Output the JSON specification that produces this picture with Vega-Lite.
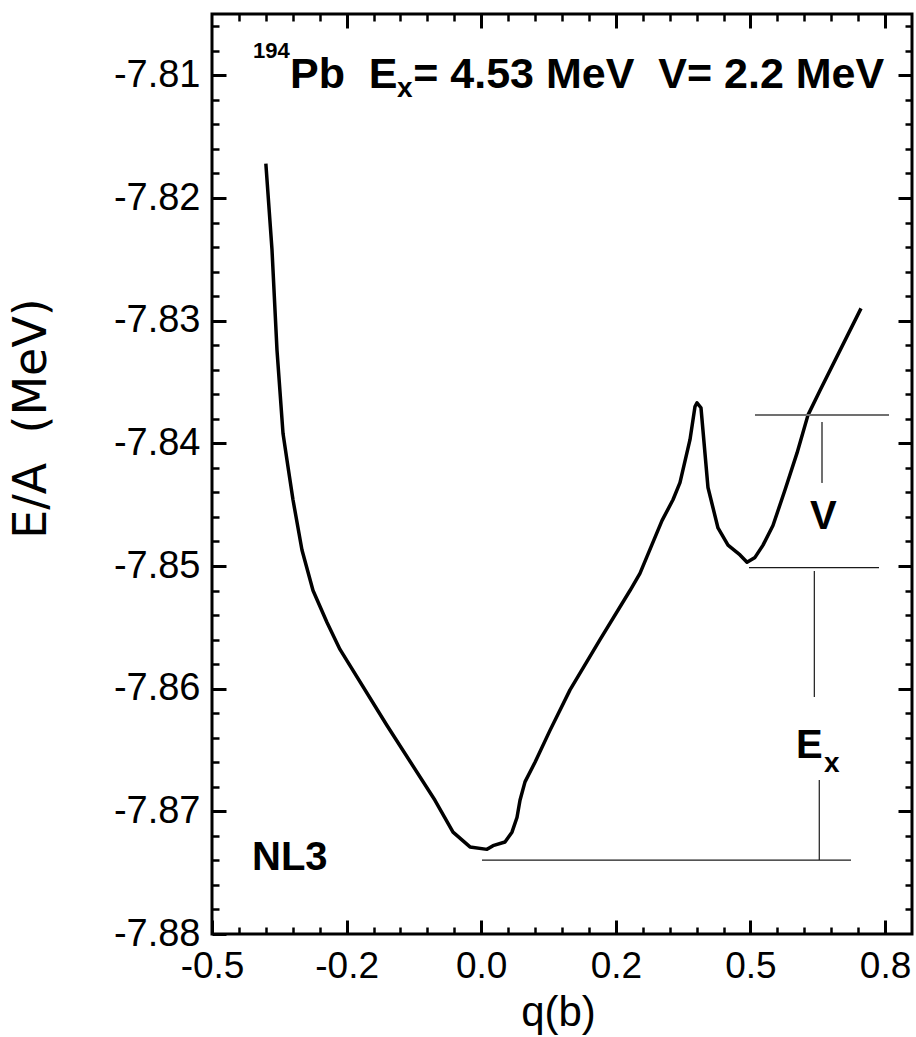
{
  "$schema": "https://vega.github.io/schema/vega-lite/v6.json",
  "width": 700,
  "height": 920,
  "autosize": {"type": "none"},
  "padding": {"left": 212, "top": 14, "right": 4, "bottom": 103},
  "background": "white",
  "config": {
    "view": {"stroke": "black", "strokeWidth": 3},
    "axis": {"domain": false, "grid": false, "labelFont": "Liberation Sans, Arial, sans-serif", "titleFont": "Liberation Sans, Arial, sans-serif", "labelColor": "black", "titleColor": "black"},
    "text": {"font": "Liberation Sans, Arial, sans-serif", "color": "black"}
  },
  "datasets": {
    "curve": [
      {"q": -0.400, "e": -7.8172},
      {"q": -0.3886, "e": -7.8242},
      {"q": -0.3793, "e": -7.8324},
      {"q": -0.3681, "e": -7.8392},
      {"q": -0.3589, "e": -7.8419},
      {"q": -0.3496, "e": -7.8446},
      {"q": -0.3329, "e": -7.8487},
      {"q": -0.3124, "e": -7.8520},
      {"q": -0.2864, "e": -7.8546},
      {"q": -0.2623, "e": -7.8568},
      {"q": -0.175, "e": -7.8630},
      {"q": -0.0859, "e": -7.8691},
      {"q": -0.0524, "e": -7.8717},
      {"q": -0.0209, "e": -7.8729},
      {"q": 0.0107, "e": -7.8731},
      {"q": 0.0219, "e": -7.8728},
      {"q": 0.0441, "e": -7.8725},
      {"q": 0.0571, "e": -7.8717},
      {"q": 0.0664, "e": -7.8705},
      {"q": 0.0720, "e": -7.8691},
      {"q": 0.0813, "e": -7.8676},
      {"q": 0.0999, "e": -7.8660},
      {"q": 0.1277, "e": -7.8634},
      {"q": 0.1649, "e": -7.8601},
      {"q": 0.2206, "e": -7.8560},
      {"q": 0.2763, "e": -7.8520},
      {"q": 0.2948, "e": -7.8506},
      {"q": 0.3357, "e": -7.8463},
      {"q": 0.3561, "e": -7.8446},
      {"q": 0.3691, "e": -7.8432},
      {"q": 0.3877, "e": -7.8397},
      {"q": 0.3970, "e": -7.8370},
      {"q": 0.4007, "e": -7.8367},
      {"q": 0.4081, "e": -7.8371},
      {"q": 0.4211, "e": -7.8436},
      {"q": 0.4397, "e": -7.8469},
      {"q": 0.4583, "e": -7.8483},
      {"q": 0.4806, "e": -7.8491},
      {"q": 0.4936, "e": -7.8497},
      {"q": 0.5084, "e": -7.8493},
      {"q": 0.5233, "e": -7.8483},
      {"q": 0.5418, "e": -7.8467},
      {"q": 0.5641, "e": -7.8438},
      {"q": 0.5864, "e": -7.8408},
      {"q": 0.6068, "e": -7.8377},
      {"q": 0.6291, "e": -7.8357},
      {"q": 0.7053, "e": -7.8290}
    ],
    "graylines": [
      {"x1": 0.5084, "x2": 0.7573, "y1": -7.83769, "y2": -7.83769},
      {"x1": 0.6329, "x2": 0.6329, "y1": -7.83826, "y2": -7.84323}
    ],
    "blacklines": [
      {"x1": 0.4973, "x2": 0.7387, "y1": -7.85014, "y2": -7.85014},
      {"x1": 0.6186, "x2": 0.6186, "y1": -7.85041, "y2": -7.86068},
      {"x1": 0.6278, "x2": 0.6278, "y1": -7.86745, "y2": -7.87397},
      {"x1": 0.0014, "x2": 0.6867, "y1": -7.87397, "y2": -7.87397}
    ],
    "biglabels": [
      {"x": -0.4257, "y": -7.87478, "t": "NL3"},
      {"x": 0.6106, "y": -7.84698, "t": "V"},
      {"x": 0.5846, "y": -7.86565, "t": "E"}
    ],
    "subs": [
      {"x": 0.6366, "y": -7.86679, "t": "x"},
      {"x": -0.1565, "y": -7.81177, "t": "x"}
    ],
    "titlebig": [
      {"x": -0.3551, "y": -7.81103, "t": "Pb\u00a0\u00a0E"},
      {"x": -0.1262, "y": -7.81103, "t": "= 4.53 MeV\u00a0\u00a0V= 2.2 MeV"}
    ],
    "titlesup": [
      {"x": -0.4239, "y": -7.80859, "t": "194"}
    ]
  },
  "layer": [
    {
      "data": {"name": "curve"},
      "mark": {"type": "line", "color": "black", "strokeWidth": 3.5, "strokeJoin": "round"},
      "encoding": {
        "x": {"field": "q", "type": "quantitative", "scale": {"domain": [-0.5, 0.8], "nice": false, "zero": false},
          "axis": {"orient": "bottom", "offset": -14, "values": [-0.5, -0.25, 0, 0.25, 0.5, 0.75], "tickSize": 14, "tickWidth": 3, "tickColor": "black",
            "labelExpr": "datum.value == -0.5 ? '-0.5' : datum.value == -0.25 ? '-0.2' : datum.value == 0 ? '0.0' : datum.value == 0.25 ? '0.2' : datum.value == 0.5 ? '0.5' : '0.8'",
            "labelFontSize": 37, "labelPadding": 14, "labelFlush": false, "labelOverlap": false,
            "title": "q(b)", "titleFontSize": 42, "titleFontWeight": "normal", "titleX": 346, "titleY": 105, "titleBaseline": "alphabetic", "titleAlign": "center"}},
        "y": {"field": "e", "type": "quantitative", "scale": {"domain": [-7.88, -7.805], "nice": false, "zero": false},
          "axis": {"orient": "left", "offset": -14, "values": [-7.88, -7.87, -7.86, -7.85, -7.84, -7.83, -7.82, -7.81], "tickSize": 14, "tickWidth": 3, "tickColor": "black",
            "labelExpr": "'-' + format(abs(datum.value), '.2f')",
            "labelFontSize": 38, "labelPadding": 12, "labelFlush": false, "labelOverlap": false,
            "title": "E/A\u00a0\u00a0(MeV)", "titleFont": "DejaVu Sans, sans-serif", "titleFontSize": 46, "titleFontWeight": "normal", "titleX": -181, "titleY": 404, "titleAngle": 270, "titleBaseline": "alphabetic", "titleAlign": "center"}}
      }
    },
    {
      "data": {"name": "graylines"},
      "mark": {"type": "rule", "color": "#707070", "strokeWidth": 2},
      "encoding": {
        "x": {"field": "x1", "type": "quantitative", "scale": {"domain": [-0.5, 0.8], "nice": false, "zero": false},
          "axis": {"orient": "bottom", "offset": -7, "values": [-0.45, -0.4, -0.35, -0.3, -0.2, -0.15, -0.1, -0.05, 0.05, 0.1, 0.15, 0.2, 0.3, 0.35, 0.4, 0.45, 0.55, 0.6, 0.65, 0.7], "tickSize": 7, "tickWidth": 2.5, "tickColor": "black", "labels": false, "title": null}},
        "x2": {"field": "x2"},
        "y": {"field": "y1", "type": "quantitative", "scale": {"domain": [-7.88, -7.805], "nice": false, "zero": false},
          "axis": {"orient": "left", "offset": -7, "values": [-7.878, -7.876, -7.874, -7.872, -7.868, -7.866, -7.864, -7.862, -7.858, -7.856, -7.854, -7.852, -7.848, -7.846, -7.844, -7.842, -7.838, -7.836, -7.834, -7.832, -7.828, -7.826, -7.824, -7.822, -7.818, -7.816, -7.814, -7.812, -7.808, -7.806], "tickSize": 7, "tickWidth": 2.5, "tickColor": "black", "labels": false, "title": null}},
        "y2": {"field": "y2"}
      }
    },
    {
      "data": {"name": "blacklines"},
      "mark": {"type": "rule", "color": "#1a1a1a", "strokeWidth": 1.2},
      "encoding": {
        "x": {"field": "x1", "type": "quantitative", "scale": {"domain": [-0.5, 0.8], "nice": false, "zero": false},
          "axis": {"orient": "top", "offset": -14, "values": [-0.25, 0, 0.25, 0.5, 0.75], "tickSize": 14, "tickWidth": 3, "tickColor": "black", "labels": false, "title": null}},
        "x2": {"field": "x2"},
        "y": {"field": "y1", "type": "quantitative", "scale": {"domain": [-7.88, -7.805], "nice": false, "zero": false},
          "axis": {"orient": "right", "offset": -14, "values": [-7.87, -7.86, -7.85, -7.84, -7.83, -7.82, -7.81], "tickSize": 14, "tickWidth": 3, "tickColor": "black", "labels": false, "title": null}},
        "y2": {"field": "y2"}
      }
    },
    {
      "data": {"name": "biglabels"},
      "mark": {"type": "text", "fontSize": 40, "fontWeight": "bold", "align": "left", "baseline": "alphabetic"},
      "encoding": {
        "x": {"field": "x", "type": "quantitative", "scale": {"domain": [-0.5, 0.8], "nice": false, "zero": false},
          "axis": {"orient": "top", "offset": -7, "values": [-0.45, -0.4, -0.35, -0.3, -0.2, -0.15, -0.1, -0.05, 0.05, 0.1, 0.15, 0.2, 0.3, 0.35, 0.4, 0.45, 0.55, 0.6, 0.65, 0.7], "tickSize": 7, "tickWidth": 2.5, "tickColor": "black", "labels": false, "title": null}},
        "y": {"field": "y", "type": "quantitative", "scale": {"domain": [-7.88, -7.805], "nice": false, "zero": false},
          "axis": {"orient": "right", "offset": -7, "values": [-7.878, -7.876, -7.874, -7.872, -7.868, -7.866, -7.864, -7.862, -7.858, -7.856, -7.854, -7.852, -7.848, -7.846, -7.844, -7.842, -7.838, -7.836, -7.834, -7.832, -7.828, -7.826, -7.824, -7.822, -7.818, -7.816, -7.814, -7.812, -7.808, -7.806], "tickSize": 7, "tickWidth": 2.5, "tickColor": "black", "labels": false, "title": null}},
        "text": {"field": "t"}
      }
    },
    {
      "data": {"name": "subs"},
      "mark": {"type": "text", "fontSize": 28, "fontWeight": "bold", "align": "left", "baseline": "alphabetic"},
      "encoding": {
        "x": {"field": "x", "type": "quantitative", "axis": null},
        "y": {"field": "y", "type": "quantitative", "axis": null},
        "text": {"field": "t"}
      }
    },
    {
      "data": {"name": "titlebig"},
      "mark": {"type": "text", "fontSize": 43, "fontWeight": "bold", "align": "left", "baseline": "alphabetic"},
      "encoding": {
        "x": {"field": "x", "type": "quantitative", "axis": null},
        "y": {"field": "y", "type": "quantitative", "axis": null},
        "text": {"field": "t"}
      }
    },
    {
      "data": {"name": "titlesup"},
      "mark": {"type": "text", "fontSize": 22, "fontWeight": "bold", "align": "left", "baseline": "alphabetic"},
      "encoding": {
        "x": {"field": "x", "type": "quantitative", "axis": null},
        "y": {"field": "y", "type": "quantitative", "axis": null},
        "text": {"field": "t"}
      }
    }
  ],
  "resolve": {"axis": {"x": "independent", "y": "independent"}}
}
